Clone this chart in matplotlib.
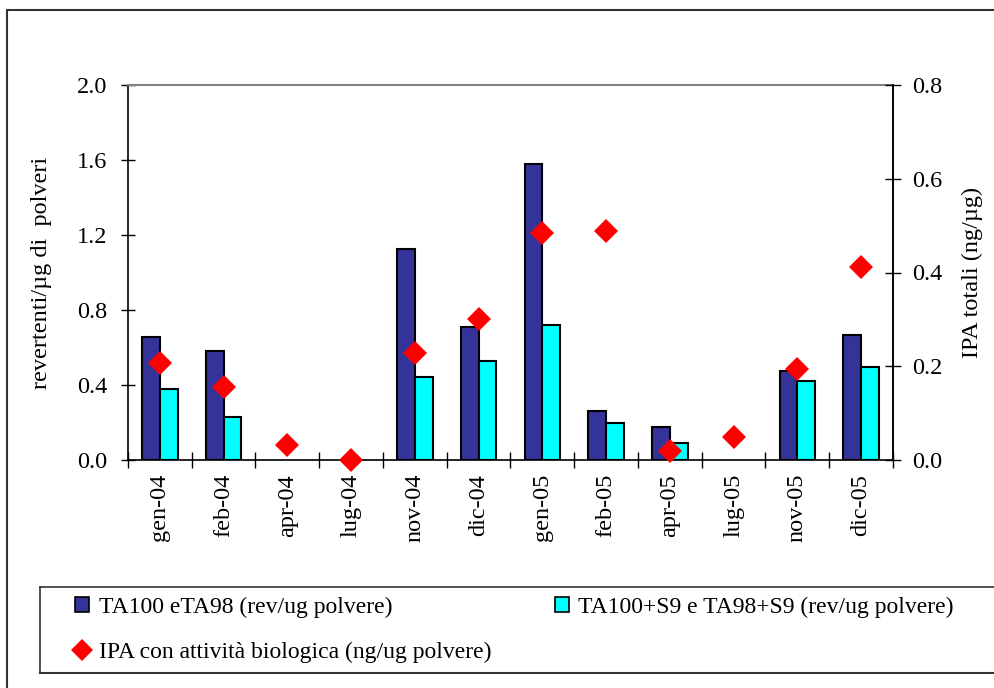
import matplotlib
matplotlib.use("Agg")
import matplotlib.pyplot as plt
from matplotlib.lines import Line2D
from matplotlib.patches import Patch
import numpy as np

categories = ["gen-04", "feb-04", "apr-04", "lug-04", "nov-04", "dic-04",
              "gen-05", "feb-05", "apr-05", "lug-05", "nov-05", "dic-05"]
nan = float("nan")
ta_plain = [0.656, 0.58, nan, nan, 1.125, 0.709, 1.579, 0.261, 0.176, nan, 0.475, 0.667]
ta_s9 = [0.379, 0.23, nan, nan, 0.443, 0.528, 0.72, 0.197, 0.091, nan, 0.421, 0.496]
ipa = [0.207, 0.156, 0.032, 0.0, 0.228, 0.301, 0.484, 0.489, 0.019, 0.049, 0.194, 0.412]
left_ticks = [0.0, 0.4, 0.8, 1.2, 1.6, 2.0]
right_ticks = [0.0, 0.2, 0.4, 0.6, 0.8]

plt.rcParams['font.family'] = ['Liberation Serif', 'DejaVu Serif']

W, H = 995, 688
FS = 17.5
fig = plt.figure(figsize=(W / 100, H / 100), dpi=100)
ax = fig.add_axes([128 / W, 1 - 460 / H, (893 - 128) / W, (460 - 85) / H])

x = np.arange(len(categories))
bw = 0.28
ax.bar(x - bw / 2, ta_plain, bw, color="#333399", edgecolor="black", linewidth=1.5, zorder=2)
ax.bar(x + bw / 2, ta_s9, bw, color="#00FFFF", edgecolor="black", linewidth=1.5, zorder=2)
ax.set_xlim(-0.5, len(categories) - 0.5)
ax.set_ylim(0, 2.0)
ax.set_yticks(left_ticks)
ax.set_yticklabels([f"{v:.1f}" for v in left_ticks], fontsize=FS)
ax.set_xticks(x)
ax.set_xticklabels(categories, rotation=90, fontsize=FS)
ax.tick_params(axis='x', which='major', length=0, pad=10)
ax.set_xticks(np.arange(-0.5, len(categories), 1.0), minor=True)
ax.tick_params(axis='x', which='minor', length=12, direction='inout', width=1)
ax.tick_params(axis='y', length=10, direction='inout', width=1, pad=10)
ax.set_ylabel("revertenti/µg di  polveri", fontsize=FS, labelpad=18)

for s in ['left', 'bottom', 'right']:
    ax.spines[s].set_color('black')
    ax.spines[s].set_linewidth(1.2)
ax.spines['top'].set_color('#808080')
ax.spines['top'].set_linewidth(1.5)

ax2 = ax.twinx()
ax2.plot(x, ipa, linestyle='none', marker='D', color='#FF0000', markersize=12.5,
         markeredgewidth=0, clip_on=False, zorder=3)
ax2.set_ylim(0, 0.8)
ax2.set_yticks(right_ticks)
ax2.set_yticklabels([f"{v:.1f}" for v in right_ticks], fontsize=FS)
ax2.tick_params(axis='y', length=12, direction='inout', width=1, pad=8)
ax2.set_ylabel("IPA totali (ng/µg)", fontsize=FS, labelpad=14)
ax2.spines['right'].set_color('black')
ax2.spines['right'].set_linewidth(1.2)
ax2.spines['top'].set_visible(False)
ax2.spines['left'].set_visible(False)
ax2.spines['bottom'].set_visible(False)

# outer frame (top and left edges visible)
fig.add_artist(Line2D([7 / W, 1.0], [1 - 10 / H, 1 - 10 / H], color='#333333', lw=1.5))
fig.add_artist(Line2D([7 / W, 7 / W], [0, 1 - 10 / H], color='#333333', lw=1.5))

# legend box
ly0, ly1 = 1 - 673 / H, 1 - 587 / H
fig.add_artist(Line2D([40 / W, 1.0], [ly1, ly1], color='#333333', lw=1.2))
fig.add_artist(Line2D([40 / W, 1.0], [ly0, ly0], color='#333333', lw=1.5))
fig.add_artist(Line2D([40 / W, 40 / W], [ly0, ly1], color='#333333', lw=1.2))

handles = [
    Patch(facecolor="#333399", edgecolor="black", linewidth=1.2, label="TA100 eTA98 (rev/ug polvere)"),
    Line2D([], [], linestyle='none', marker='D', color='#FF0000', markersize=11,
           markeredgewidth=0, label="IPA con attività biologica (ng/ug polvere)"),
    Patch(facecolor="#00FFFF", edgecolor="black", linewidth=1.2, label="TA100+S9 e TA98+S9 (rev/ug polvere)"),
]
fig.legend(handles=handles, ncol=2, loc='upper left', bbox_to_anchor=(75 / W, 1 - 597 / H),
           frameon=False, fontsize=17, handlelength=0.6, handleheight=0.6, handletextpad=0.4,
           columnspacing=2.7, labelspacing=1.0, borderaxespad=0, borderpad=0)

fig.savefig("out.png", dpi=100)
